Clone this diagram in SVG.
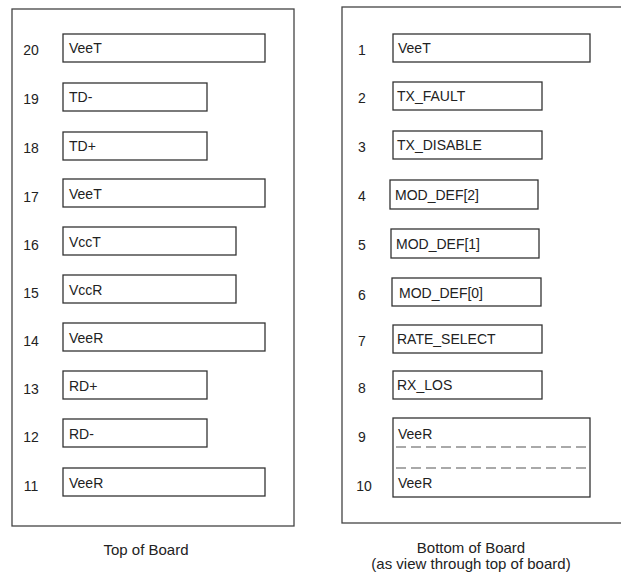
<svg xmlns="http://www.w3.org/2000/svg" width="621" height="576" viewBox="0 0 621 576">
<style>
.frame{fill:none;stroke:#444;stroke-width:1.3}
.pin{fill:#fff;stroke:#333;stroke-width:1.3}
.dash{fill:none;stroke:#555;stroke-width:1.2;stroke-dasharray:10,5}
text{font-family:"Liberation Sans",Arial,sans-serif;font-size:14px;fill:#222}
.num{text-anchor:middle}
.cap{text-anchor:middle;font-size:15px}
</style>
<rect width="621" height="576" fill="#fff"/>
<g id="top-board">
<rect class="frame" x="12" y="9" width="282" height="517"/>
<text class="cap" x="146" y="555">Top of Board</text>
</g>
<g id="bottom-board">
<rect class="frame" x="342" y="7" width="290" height="516"/>
<text class="cap" x="471" y="553">Bottom of Board</text>
<text class="cap" x="471" y="569">(as view through top of board)</text>
</g>
<g id="pin20"><rect class="pin" x="63" y="34" width="202" height="28"/><text class="num" x="31" y="55">20</text><text x="69" y="53">VeeT</text></g>
<g id="pin19"><rect class="pin" x="63" y="83" width="144" height="28"/><text class="num" x="31" y="104">19</text><text x="69" y="102">TD-</text></g>
<g id="pin18"><rect class="pin" x="63" y="132" width="144" height="28"/><text class="num" x="31" y="153">18</text><text x="69" y="151">TD+</text></g>
<g id="pin17"><rect class="pin" x="63" y="179" width="202" height="28"/><text class="num" x="31" y="202">17</text><text x="69" y="199">VeeT</text></g>
<g id="pin16"><rect class="pin" x="63" y="227" width="173" height="28"/><text class="num" x="31" y="250">16</text><text x="69" y="247">VccT</text></g>
<g id="pin15"><rect class="pin" x="63" y="275" width="173" height="28"/><text class="num" x="31" y="298">15</text><text x="69" y="295">VccR</text></g>
<g id="pin14"><rect class="pin" x="63" y="323" width="202" height="28"/><text class="num" x="31" y="346">14</text><text x="69" y="343">VeeR</text></g>
<g id="pin13"><rect class="pin" x="63" y="371" width="144" height="28"/><text class="num" x="31" y="394">13</text><text x="69" y="391">RD+</text></g>
<g id="pin12"><rect class="pin" x="63" y="419" width="144" height="28"/><text class="num" x="31" y="442">12</text><text x="69" y="439">RD-</text></g>
<g id="pin11"><rect class="pin" x="63" y="468" width="202" height="28"/><text class="num" x="31" y="491">11</text><text x="69" y="488">VeeR</text></g>
<g id="pin1"><rect class="pin" x="393" y="34" width="197" height="28"/><text class="num" x="362" y="55">1</text><text x="398" y="53">VeeT</text></g>
<g id="pin2"><rect class="pin" x="393" y="82" width="149" height="28"/><text class="num" x="362" y="103">2</text><text x="397" y="101">TX_FAULT</text></g>
<g id="pin3"><rect class="pin" x="393" y="131" width="149" height="28"/><text class="num" x="362" y="152">3</text><text x="397" y="150">TX_DISABLE</text></g>
<g id="pin4"><rect class="pin" x="390" y="180" width="148" height="29"/><text class="num" x="362" y="201">4</text><text x="395" y="200">MOD_DEF[2]</text></g>
<g id="pin5"><rect class="pin" x="391" y="229" width="148" height="29"/><text class="num" x="362" y="250">5</text><text x="396" y="249">MOD_DEF[1]</text></g>
<g id="pin6"><rect class="pin" x="392" y="278" width="149" height="28"/><text class="num" x="362" y="300">6</text><text x="399" y="298">MOD_DEF[0]</text></g>
<g id="pin7"><rect class="pin" x="393" y="325" width="149" height="28"/><text class="num" x="362" y="346">7</text><text x="397" y="344">RATE_SELECT</text></g>
<g id="pin8"><rect class="pin" x="393" y="371" width="149" height="28"/><text class="num" x="362" y="393">8</text><text x="397" y="390">RX_LOS</text></g>
<g id="pin9-10">
<rect class="pin" x="393" y="418" width="197" height="79"/>
<line class="dash" x1="396" y1="447" x2="588" y2="447"/>
<line class="dash" x1="396" y1="468" x2="588" y2="468"/>
<text class="num" x="362" y="442">9</text><text x="398" y="439">VeeR</text>
<text class="num" x="364" y="491">10</text><text x="398" y="488">VeeR</text>
</g>
<g id="connectors"></g>
</svg>
